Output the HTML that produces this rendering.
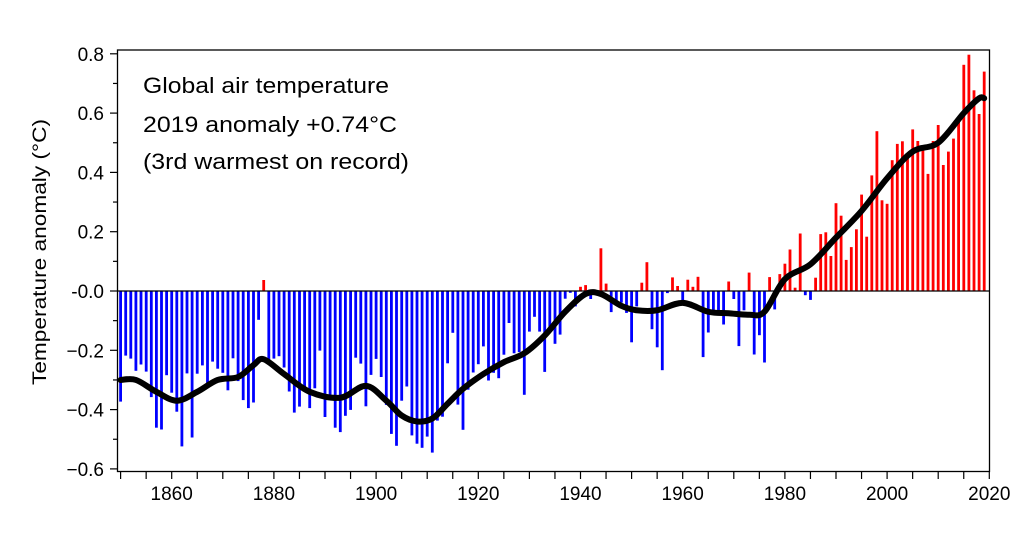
<!DOCTYPE html>
<html><head><meta charset="utf-8"><style>
body{margin:0;background:#fff;}
svg{display:block;font-family:"Liberation Sans",Arial,sans-serif;}
</style></head><body>
<svg id="s" width="1030" height="545" viewBox="0 0 1030 545" xmlns="http://www.w3.org/2000/svg"></svg>
<script>
const d=[-0.373,-0.218,-0.228,-0.269,-0.248,-0.272,-0.358,-0.461,-0.467,-0.284,-0.343,-0.407,-0.524,-0.278,-0.494,-0.279,-0.251,-0.321,-0.238,-0.262,-0.276,-0.335,-0.227,-0.304,-0.368,-0.395,-0.376,-0.097,0.037,-0.233,-0.228,-0.220,-0.258,-0.339,-0.410,-0.390,-0.330,-0.395,-0.328,-0.201,-0.425,-0.367,-0.461,-0.476,-0.421,-0.401,-0.225,-0.245,-0.389,-0.283,-0.229,-0.290,-0.384,-0.482,-0.522,-0.370,-0.322,-0.487,-0.515,-0.529,-0.491,-0.545,-0.437,-0.424,-0.244,-0.141,-0.383,-0.468,-0.333,-0.275,-0.247,-0.187,-0.302,-0.276,-0.294,-0.215,-0.108,-0.210,-0.206,-0.350,-0.137,-0.087,-0.137,-0.273,-0.131,-0.178,-0.147,-0.026,-0.006,-0.052,0.014,0.020,-0.027,-0.004,0.144,0.025,-0.071,-0.038,-0.039,-0.074,-0.173,-0.052,0.028,0.097,-0.129,-0.190,-0.267,-0.007,0.046,0.017,-0.049,0.038,0.014,0.048,-0.223,-0.140,-0.068,-0.074,-0.113,0.032,-0.027,-0.186,-0.065,0.062,-0.214,-0.149,-0.241,0.047,-0.062,0.057,0.092,0.140,0.011,0.194,-0.014,-0.030,0.045,0.192,0.198,0.118,0.296,0.254,0.105,0.148,0.208,0.325,0.183,0.390,0.539,0.306,0.294,0.441,0.496,0.505,0.447,0.545,0.506,0.491,0.395,0.506,0.560,0.425,0.470,0.514,0.579,0.763,0.797,0.677,0.597,0.74];
const X=y=>120.6+(y-1850)*5.11, Y=v=>291-v*296.5;
let h='';
d.forEach((v,i)=>{const x=X(1850+i);const y0=Y(0),y1=Y(v);
h+=`<rect x="${(x-1.4).toFixed(1)}" y="${Math.min(y0,y1).toFixed(1)}" width="2.8" height="${Math.abs(y1-y0).toFixed(1)}" fill="${v>=0?'#ff0000':'#0000ff'}"/>`;});
h+=`<line x1="118" y1="291" x2="990" y2="291" stroke="#000" stroke-width="1.2"/>`;
const k=[[1850,-0.30],[1853,-0.30],[1857,-0.34],[1861,-0.37],[1865,-0.34],[1869,-0.30],[1873,-0.29],[1876,-0.25],[1878,-0.23],[1882,-0.28],[1887,-0.34],[1893,-0.36],[1898,-0.32],[1902,-0.37],[1905,-0.42],[1908,-0.44],[1911,-0.43],[1914,-0.38],[1917,-0.33],[1921,-0.28],[1925,-0.24],[1929,-0.21],[1933,-0.15],[1937,-0.07],[1941,-0.01],[1944,-0.01],[1948,-0.05],[1951,-0.065],[1955,-0.065],[1960,-0.04],[1965,-0.07],[1969,-0.075],[1973,-0.08],[1976,-0.07],[1980,0.04],[1985,0.09],[1990,0.18],[1995,0.27],[2000,0.38],[2005,0.47],[2010,0.50],[2015,0.60],[2018,0.65],[2019,0.65]];
let p=`M${X(k[0][0])},${Y(k[0][1])}`;
for(let i=0;i<k.length-1;i++){const a=k[Math.max(i-1,0)],b=k[i],c=k[i+1],e=k[Math.min(i+2,k.length-1)];
const bx=X(b[0]),by=Y(b[1]),cx=X(c[0]),cy=Y(c[1]);
p+=` C${bx+(cx-X(a[0]))/6},${by+(cy-Y(a[1]))/6} ${cx-(X(e[0])-bx)/6},${cy-(Y(e[1])-by)/6} ${cx},${cy}`;}
h+=`<path d="${p}" fill="none" stroke="#000" stroke-width="6" stroke-linecap="round" stroke-linejoin="round"/>`;
h+=`<rect x="117.5" y="50" width="872" height="421.5" fill="none" stroke="#000" stroke-width="1.3"/>`;
for(let v=-0.6;v<=0.81;v+=0.1){const y=Y(v);const maj=Math.abs(Math.round(v*10))%2==0;
h+=`<line x1="${maj?110:113}" y1="${y}" x2="117.5" y2="${y}" stroke="#000" stroke-width="1.2"/>`;
if(maj){let r=Math.round(v*10)/10;let t=r==0?'-0.0':(r<0?'\u2212'+(-r).toFixed(1):r.toFixed(1));
h+=`<text x="104" y="${y+7}" font-size="19" text-anchor="end">${t}</text>`;}}
for(let yr=1850;yr<=2020;yr+=5){const x=X(yr);h+=`<line x1="${x}" y1="471.5" x2="${x}" y2="479" stroke="#000" stroke-width="1.2"/>`;
if(yr%20==0)h+=`<text x="${x}" y="500" font-size="19" text-anchor="middle">${yr}</text>`;}
h+=`<text transform="translate(46,252) rotate(-90)" font-size="19" text-anchor="middle" textLength="266" lengthAdjust="spacingAndGlyphs">Temperature anomaly (°C)</text>`;
h+=`<text x="143" y="93" font-size="22" textLength="246" lengthAdjust="spacingAndGlyphs">Global air temperature</text><text x="143" y="132" font-size="22" textLength="254" lengthAdjust="spacingAndGlyphs">2019 anomaly +0.74°C</text><text x="143" y="169" font-size="22" textLength="266" lengthAdjust="spacingAndGlyphs">(3rd warmest on record)</text>`;
document.getElementById('s').innerHTML=h;
</script>
</body></html>
